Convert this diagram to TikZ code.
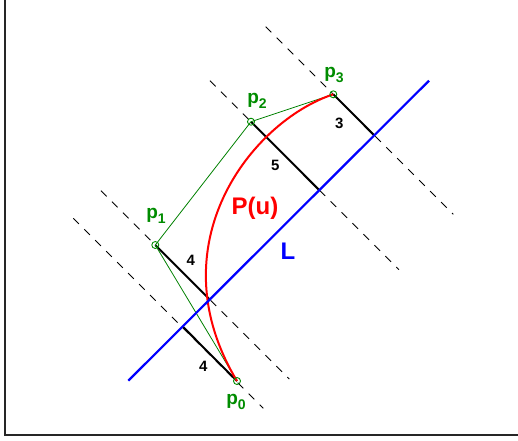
\documentclass[tikz,border=0pt]{standalone}
\usepackage{fontspec}
\setmainfont{Liberation Sans}
\usetikzlibrary{calc}
\newcommand{\pidx}[1]{p\raisebox{-4.5pt}{\fontsize{14}{14}\selectfont #1}}
\begin{document}
\begin{tikzpicture}[x=1pt,y=-1pt,
  guide/.style={black,line width=0.8pt,dash pattern=on 8pt off 7.5pt},
  perpseg/.style={black,line width=2pt},
  poly/.style={green!50!black,line width=0.8pt},
  ctrl/.style={circle,draw=green!55!black,line width=0.9pt,inner sep=0pt,minimum size=7pt},
  plabel/.style={text=green!55!black,font=\bfseries\fontsize{19}{19}\selectfont,inner sep=0pt},
  numlabel/.style={text=black,font=\bfseries\fontsize{15}{15}\selectfont,inner sep=0pt},
  biglabel/.style={font=\bfseries\fontsize{24}{24}\selectfont,inner sep=0pt}]
\useasboundingbox (0,0) rectangle (518,440);
\draw[line width=2pt,black!85] (5,-5) -- (5,435) -- (525,435);
% control points
\coordinate (p0) at (237,381);
\coordinate (p1) at (155.3,245);
\coordinate (p2) at (251,121.7);
\coordinate (p3) at (333.3,94.3);
% line L
\coordinate (LA) at (128.3,380.7);
\coordinate (LB) at (429,80.7);
% dashed guide end points
\coordinate (d0a) at (73.3,218.3);  \coordinate (d0b) at (263.3,408.3);
\coordinate (d1a) at (101,190.7);   \coordinate (d1b) at (289.3,379);
\coordinate (d2a) at (210,80.7);    \coordinate (d2b) at (399,269.7);
\coordinate (d3a) at (265.7,26.7);  \coordinate (d3b) at (453.3,214.3);
\draw[guide] (d0a) -- (d0b);
\draw[guide] (d1a) -- (d1b);
\draw[guide] (d2a) -- (d2b);
\draw[guide] (d3a) -- (d3b);
% feet
\coordinate (f0) at ($(LA)!(p0)!(LB)$);
\coordinate (f1) at ($(LA)!(p1)!(LB)$);
\coordinate (f2) at ($(LA)!(p2)!(LB)$);
\coordinate (f3) at ($(LA)!(p3)!(LB)$);
\draw[perpseg] (p0) -- (f0);
\draw[perpseg] (p1) -- (f1);
\draw[perpseg] (p2) -- (f2);
\draw[perpseg] (p3) -- (f3);
% control polygon
\draw[poly] (p0) -- (p1) -- (p2) -- (p3);
% Bezier curve
\draw[red,line width=2pt] (p0) .. controls (p1) and (p2) .. (p3);
% line L
\draw[blue,line width=2.2pt] (LA) -- (LB);
% control point markers
\node[ctrl] (c0) at (p0) {};
\node[ctrl] (c1) at (p1) {};
\node[ctrl] (c2) at (p2) {};
\node[ctrl] (c3) at (p3) {};
% labels
\node[plabel] (l0) at (236,402) {\pidx{0}};
\node[plabel] (l1) at (156,216) {\pidx{1}};
\node[plabel] (l2) at (257,101) {\pidx{2}};
\node[plabel] (l3) at (334,75) {\pidx{3}};
\node[biglabel,text=red] (pu) at (255,208) {P(u)};
\node[biglabel,text=blue] (lL) at (288,251) {L};
\node[numlabel] (n1) at (190.7,260) {4};
\node[numlabel] (n0) at (203.3,366.7) {4};
\node[numlabel] (n2) at (275.3,165.7) {5};
\node[numlabel] (n3) at (339.3,123.3) {3};
\end{tikzpicture}
\end{document}
